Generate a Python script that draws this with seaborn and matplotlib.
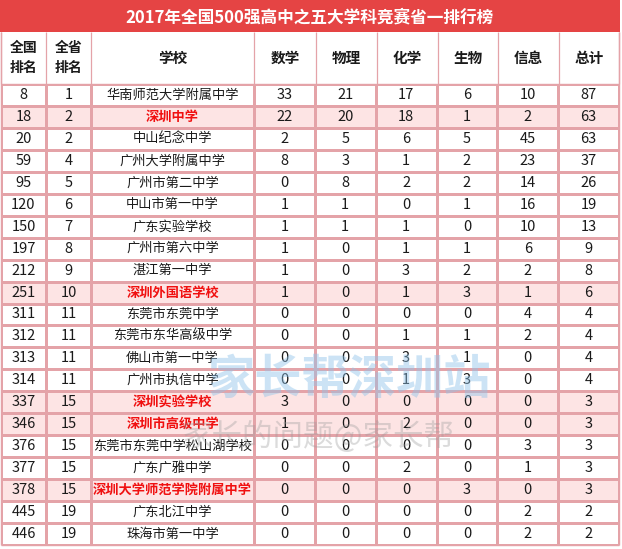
import numpy as np
import matplotlib
matplotlib.use("Agg")
import matplotlib.pyplot as plt
from matplotlib.colors import ListedColormap
import seaborn as sns

TITLE = "2017年全国500强高中之五大学科竞赛省一排行榜"
HEADERS = ["全国\n排名", "全省\n排名", "学校", "数学", "物理", "化学", "生物", "信息", "总计"]

NATIONAL_RANK = [8, 18, 20, 59, 95, 120, 150, 197, 212, 251, 311,
                 312, 313, 314, 337, 346, 376, 377, 378, 445, 446]
PROVINCE_RANK = [1, 2, 2, 4, 5, 6, 7, 8, 9, 10, 11,
                 11, 11, 11, 15, 15, 15, 15, 15, 19, 19]
SCHOOLS = ["华南师范大学附属中学", "深圳中学", "中山纪念中学", "广州大学附属中学",
           "广州市第二中学", "中山市第一中学", "广东实验学校", "广州市第六中学",
           "湛江第一中学", "深圳外国语学校", "东莞市东莞中学", "东莞市东华高级中学",
           "佛山市第一中学", "广州市执信中学", "深圳实验学校", "深圳市高级中学",
           "东莞市东莞中学松山湖学校", "广东广雅中学", "深圳大学师范学院附属中学",
           "广东北江中学", "珠海市第一中学"]
MATH    = [33, 22, 2, 8, 0, 1, 1, 1, 1, 1, 0, 0, 0, 0, 3, 1, 0, 0, 0, 0, 0]
PHYSICS = [21, 20, 5, 3, 8, 1, 1, 0, 0, 0, 0, 0, 0, 0, 0, 0, 0, 0, 0, 0, 0]
CHEM    = [17, 18, 6, 1, 2, 0, 1, 1, 3, 1, 0, 1, 3, 1, 0, 2, 0, 2, 0, 0, 0]
BIO     = [6, 1, 5, 2, 2, 1, 0, 1, 2, 3, 0, 1, 1, 3, 0, 0, 0, 0, 3, 0, 0]
INFO    = [10, 2, 45, 23, 14, 16, 10, 6, 2, 1, 4, 2, 0, 0, 0, 0, 3, 1, 0, 2, 2]
TOTAL   = [87, 63, 63, 37, 26, 19, 13, 9, 8, 6, 4, 4, 4, 4, 3, 3, 3, 3, 3, 2, 2]

RED = "#E54444"
GRID = "#E4A3A8"
PINK = "#FDE4E4"
HL_TEXT = "#F01010"

W, H = 622, 549
EDGES = [1, 46, 91, 254, 316, 377, 438, 498, 559, 619]
Y_TITLE, Y_HEAD, Y_BOT = 32, 84, 545

sns.set_theme(style="white")
plt.rcParams["font.family"] = ["Noto Sans CJK SC", "DejaVu Sans"]

highlight = np.array([s.startswith("深圳") for s in SCHOOLS], dtype=float)
cmap = ListedColormap(["white", PINK])

fig = plt.figure(figsize=(W / 100, H / 100), dpi=100)
base = fig.add_axes([0, 0, 1, 1])
base.set_xlim(0, W)
base.set_ylim(H, 0)
base.axis("off")

# title bar
base.axhspan(0, Y_TITLE, xmin=0, xmax=620 / W, color=RED, lw=0)
base.text((EDGES[0] + EDGES[-1]) / 2, Y_TITLE / 2 + 1, TITLE, color="white",
          fontsize=12, fontweight="bold", ha="center", va="center")

# header row
for i, h in enumerate(HEADERS):
    xc = (EDGES[i] + EDGES[i + 1]) / 2
    fs = 10 if "\n" in h else 10.5
    base.text(xc, (Y_TITLE + Y_HEAD) / 2, h, fontsize=fs, fontweight="bold",
              ha="center", va="center", color="#1a1a1a", linespacing=1.5)
base.vlines(EDGES, Y_TITLE, Y_HEAD, color=GRID, lw=0.9)


def table_axes(x0, x1):
    return fig.add_axes([x0 / W, 1 - Y_BOT / H, (x1 - x0) / W, (Y_BOT - Y_HEAD) / H])


def draw_block(ax, annot, fmt, fontsize):
    mask_vals = np.repeat(highlight[:, None], annot.shape[1], axis=1)
    sns.heatmap(mask_vals, ax=ax, cmap=cmap, vmin=0, vmax=1, cbar=False,
                annot=annot, fmt=fmt, linewidths=0.9, linecolor=GRID,
                xticklabels=False, yticklabels=False,
                annot_kws={"fontsize": fontsize, "color": "#1a1a1a"})
    ax.set_xlabel("")
    ax.set_ylabel("")


ranks = np.column_stack([NATIONAL_RANK, PROVINCE_RANK])
ax_rank = table_axes(EDGES[0], EDGES[2])
draw_block(ax_rank, ranks, "d", 10.5)

schools = np.array(SCHOOLS, dtype=object).reshape(-1, 1)
ax_school = table_axes(EDGES[2], EDGES[3])
draw_block(ax_school, schools, "", 9.5)
for t, hl in zip(ax_school.texts, highlight):
    if hl:
        t.set_color(HL_TEXT)
        t.set_fontweight("bold")

scores = np.column_stack([MATH, PHYSICS, CHEM, BIO, INFO, TOTAL])
ax_score = table_axes(EDGES[3], EDGES[-1])
draw_block(ax_score, scores, "d", 10.5)

# outer border
border = fig.add_axes([0, 0, 1, 1], facecolor="none")
border.set_xlim(0, W)
border.set_ylim(H, 0)
border.axis("off")
border.vlines([EDGES[0], EDGES[-1]], Y_TITLE, Y_BOT, color=GRID, lw=1.0)
border.hlines([Y_HEAD, Y_BOT], EDGES[0], EDGES[-1], color=GRID, lw=1.0)

# watermark
border.text(350, 380, "家长帮深圳站", fontsize=34, fontweight="bold",
            color="#8fc3ea", alpha=0.45, ha="center", va="center", style="italic")
border.text(318, 437, "家长的问题@家长帮", fontsize=22, color="#9a9a9a",
            alpha=0.35, ha="center", va="center")

fig.savefig("out.png", dpi=100)
